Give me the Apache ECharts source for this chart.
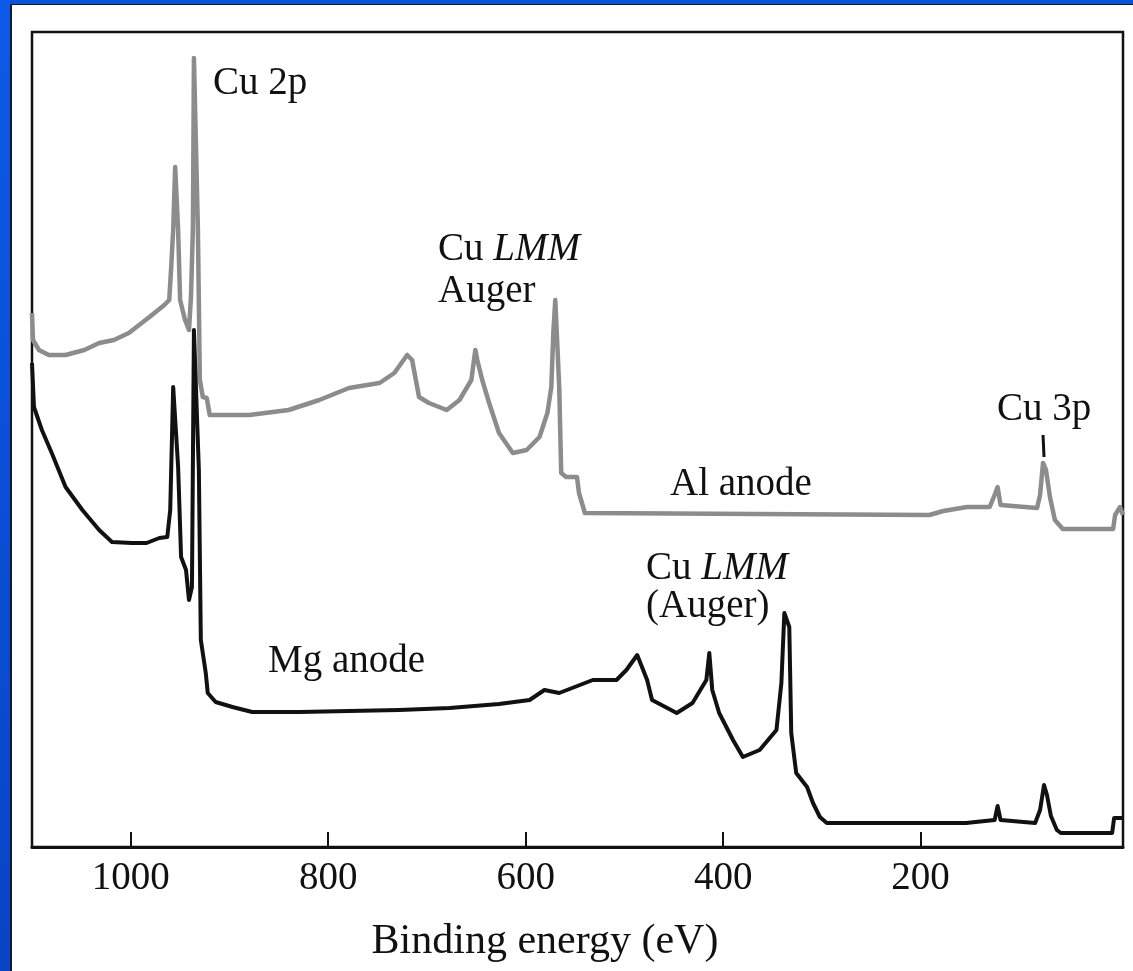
<!DOCTYPE html>
<html>
<head>
<meta charset="utf-8">
<script src="https://cdn.jsdelivr.net/npm/echarts@6/dist/echarts.min.js"></script>
<style>
html,body{margin:0;padding:0;background:#fff;}
#chart{width:1133px;height:971px;}
</style>
</head>
<body>
<div id="chart"></div>
<script>
// Binding energy (eV) and intensity (arbitrary units)
const alEnergy = [1100,1099,1093,1083,1066,1047,1032,1017,1002,981,966,961,959,957,955,953,952,950,945,941,939,937,936,934,932,930,927,923,920,880,840,809,779,748,733,720,715,708,698,680,667,655,651,649,644,637,627,613,599,586,578,574,572,570,568,566,564,559,548,546,540,191,177,153,130,125,122,119,82,79,76,73,69,64,56,5,3,-2,-5];
const alCounts = [534,507,497,492,492,497,504,507,514,530,542,547,580,617,680,680,617,547,527,517,550,620,789,789,620,467,450,449,432,432,437,447,459,464,474,492,487,450,444,437,447,467,497,487,467,444,414,394,397,410,434,460,514,547,547,460,374,370,370,354,334,332,336,340,340,352,360,342,339,352,384,377,350,327,318,318,332,340,332];

const mgEnergy = [1100,1098,1090,1080,1066,1049,1032,1019,999,984,971,963,960,957,955,952,949,944,941,938,936,934,931,929,924,922,914,897,877,829,779,728,677,627,596,581,566,532,508,498,487,477,472,447,431,417,414,411,404,390,380,363,346,341,338,336,333,331,326,315,309,302,295,154,125,122,119,84,79,75,72,68,62,58,6,4,-3,-5];
const mgCounts = [484,440,417,394,360,337,317,305,304,304,309,310,337,460,460,380,290,277,247,260,517,517,377,207,174,154,145,140,135,135,136,137,139,143,147,157,154,167,167,177,192,167,147,134,144,167,194,157,134,107,90,97,117,164,234,234,220,114,74,60,44,30,24,24,27,41,27,24,37,62,52,31,17,14,14,29,29,29];

const cu3pMarkEnergy = [75, 76];
const cu3pMarkCounts = [390, 412];

const tickValues = [200, 400, 600, 800, 1000];
const axisTitle = 'Binding energy (eV)';

const pair = (xs, ys) => xs.map((x, i) => [x, ys[i]]);
const FONT = "'Liberation Serif', 'DejaVu Serif', serif";

const chart = echarts.init(document.getElementById('chart'), null, {renderer: 'canvas'});

function label(text, x, y, rich) {
  return {
    type: 'text', x: x, y: y, z: 100,
    style: {
      text: text, fill: '#111', fontFamily: FONT, fontSize: 39,
      verticalAlign: 'middle', align: 'left',
      rich: rich || {}
    }
  };
}
const italicRich = { i: { fontStyle: 'italic', fontFamily: FONT, fontSize: 39, fill: '#111' } };

chart.setOption({
  animation: false,
  backgroundColor: '#ffffff',
  grid: {
    left: 32, right: 10, top: 32, bottom: 124,
    show: true, borderColor: '#111', borderWidth: 2.5, backgroundColor: '#fff'
  },
  xAxis: {
    type: 'value', inverse: true, min: -5, max: 1100,
    axisLine: { show: true, lineStyle: { color: '#111', width: 3 } },
    axisTick: { show: true, inside: true, length: 15, customValues: tickValues, lineStyle: { color: '#111', width: 2 } },
    axisLabel: { show: true, customValues: tickValues, margin: 12, fontFamily: FONT, fontSize: 39, color: '#111',
      formatter: v => String(v) },
    splitLine: { show: false },
    name: axisTitle, nameLocation: 'middle', nameGap: 74,
    nameTextStyle: { fontFamily: FONT, fontSize: 42, color: '#111', padding: [0, 65, 0, 0] }
  },
  yAxis: {
    type: 'value', min: 0, max: 815, show: false
  },
  series: [
    {
      name: 'Al anode', type: 'line', data: pair(alEnergy, alCounts),
      showSymbol: false, lineStyle: { color: '#8c8c8c', width: 4.5, join: 'round' }, z: 2
    },
    {
      name: 'Mg anode', type: 'line', data: pair(mgEnergy, mgCounts),
      showSymbol: false, lineStyle: { color: '#111', width: 4, join: 'round' }, z: 3
    },
    {
      name: 'Cu 3p mark', type: 'line', data: pair(cu3pMarkEnergy, cu3pMarkCounts),
      showSymbol: false, lineStyle: { color: '#111', width: 3 }, z: 3
    }
  ],
  graphic: [
    { type: 'rect', shape: { x: 0, y: 0, width: 1133, height: 4 }, style: { fill: '#0a52de' }, z: 50 },
    { type: 'rect', shape: { x: 0, y: 0, width: 10, height: 971 },
      style: { fill: new echarts.graphic.LinearGradient(0, 0, 0, 1, [{offset: 0, color: '#0c5ae8'}, {offset: 1, color: '#0844c4'}]) }, z: 50 },
    { type: 'rect', shape: { x: 10, y: 4, width: 2, height: 967 }, style: { fill: '#10182a' }, z: 50 },
    { type: 'rect', shape: { x: 10, y: 4, width: 1123, height: 1 }, style: { fill: '#10182a' }, z: 50 },
    label('Cu 2p', 213, 84),
    label('Cu {i|LMM}', 438, 250, italicRich),
    label('Auger', 438, 292),
    label('Al anode', 670, 485),
    label('Cu 3p', 997, 410),
    label('Cu {i|LMM}', 646, 569, italicRich),
    label('(Auger)', 646, 607),
    label('Mg anode', 268, 662)
  ]
});
</script>
</body>
</html>
